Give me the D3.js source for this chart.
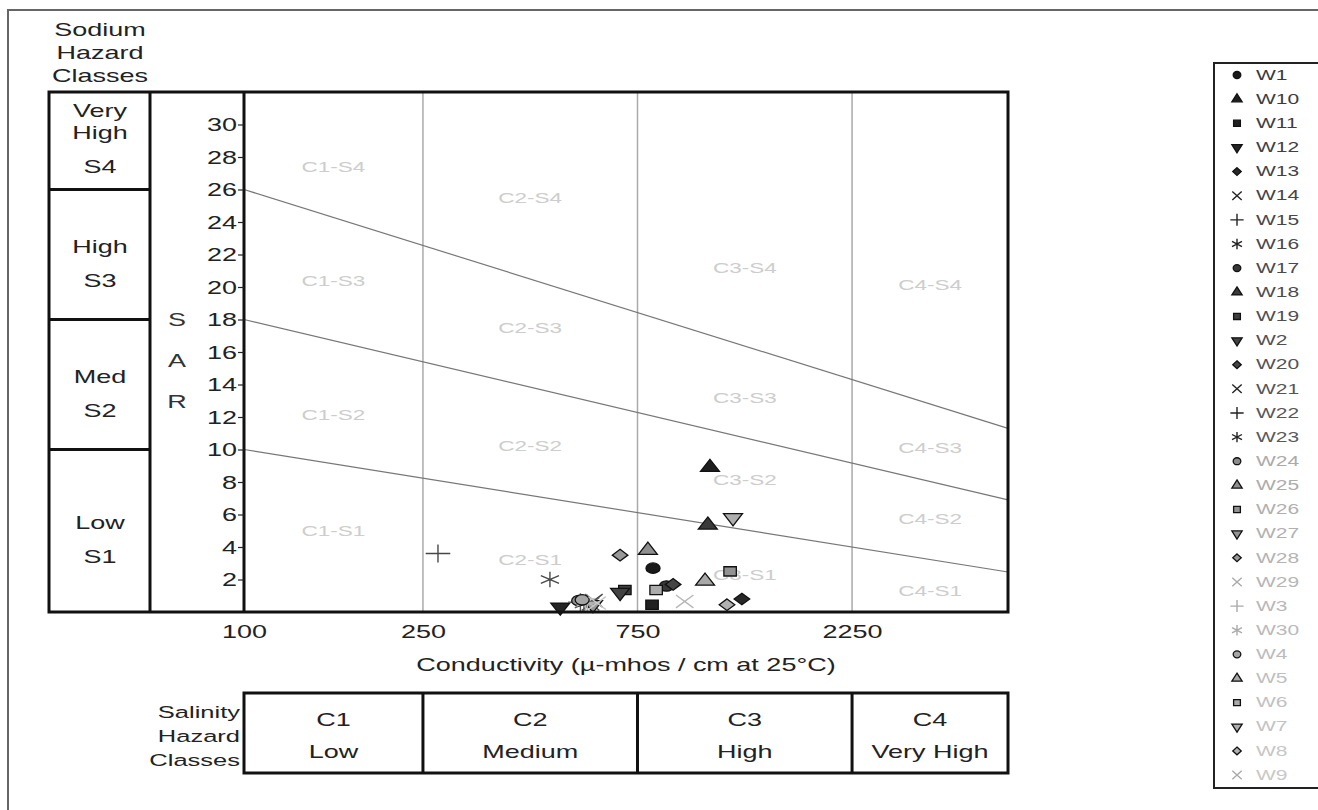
<!DOCTYPE html>
<html>
<head>
<meta charset="utf-8">
<script src="https://cdnjs.cloudflare.com/ajax/libs/d3/7.8.5/d3.min.js"></script>
<style>
  body { margin: 0; background: #fff; }
  svg { display: block; font-family: "Liberation Sans", Arial, sans-serif; }
</style>
</head>
<body>
<svg id="chart" width="1318" height="810"></svg>
<script>
// ---- data ----
var wells = ["W1", "W10", "W11", "W12", "W13", "W14", "W15", "W16", "W17", "W18",
  "W19", "W2", "W20", "W21", "W22", "W23", "W24", "W25", "W26", "W27",
  "W28", "W29", "W3", "W30", "W4", "W5", "W6", "W7", "W8", "W9"];
var conductivity = [812, 1087, 808, 505, 1280, 600, 270, 479, 870, 1075,
  703, 686, 900, 590, 560, 570, 555, 791, 1205, 597,
  686, 955, 580, 575, 565, 1060, 825, 1223, 1186, 610];
var sarValues = [2.7, 8.9, 0.45, 0.3, 0.8, 0.7, 3.6, 2.0, 1.6, 5.35,
  1.35, 1.2, 1.7, 0.5, 0.6, 0.5, 0.7, 3.8, 2.5, 0.45,
  3.5, 0.65, 0.55, 0.6, 0.75, 1.9, 1.35, 5.8, 0.45, 0.55];

var sarTicks = [2, 4, 6, 8, 10, 12, 14, 16, 18, 20, 22, 24, 26, 28, 30];
var ecTicks = [100, 250, 750, 2250];

// salinity class boundaries (µ-mhos/cm) and names
var salinityBounds = [100, 250, 750, 2250, 5000];
var salinityClasses = [["C1", "Low"], ["C2", "Medium"], ["C3", "High"], ["C4", "Very High"]];

// sodium class boundaries at 100 µ-mhos and names
var sodiumBounds = [0, 10, 18, 26, 32];
var sodiumClasses = [["Low", "S1"], ["Med", "S2"], ["High", "S3"], ["Very", "High", "S4"]];

// sloping sodium hazard lines: SAR at EC=100 and at EC=5000
var hazardStart = [10, 18, 26];
var hazardEnd = [2.46, 6.9, 11.3];

// zone label rows (S1..S4) and their SAR height per salinity column
var zoneRows = ["S1", "S2", "S3", "S4"];
var zoneSar = [
  [5.0, 3.2, 2.3, 1.3],
  [12.1, 10.2, 8.1, 5.7],
  [20.4, 17.5, 13.2, 10.1],
  [27.4, 25.5, 21.2, 20.1]
];

// ---- layout ----
var SX = 1.5;  // the reference text is stretched sideways
var svg = d3.select("#chart");
var plot = { left: 244, right: 1008, top: 92, bottom: 612 };

var x = d3.scaleLog().domain([100, 5000]).range([plot.left, plot.right]);
var y = d3.scaleLinear().domain([0, 32]).range([plot.bottom, plot.top]);

function label(g, px, py, txt, size, fill, anchor) {
  return g.append("text")
    .attr("transform", "translate(" + px + "," + py + ") scale(" + SX + ",1)")
    .attr("text-anchor", anchor || "middle")
    .attr("dominant-baseline", "central")
    .style("font-size", size + "px")
    .attr("fill", fill || "#222")
    .text(txt);
}

// outer frame
svg.append("rect")
  .attr("x", 8).attr("y", 10).attr("width", 1400).attr("height", 1000)
  .attr("fill", "none").attr("stroke", "#666").attr("stroke-width", 2);

// grid lines at salinity boundaries
svg.append("g").selectAll("line")
  .data(salinityBounds.slice(1, 4))
  .enter().append("line")
  .attr("x1", function (d) { return x(d); })
  .attr("x2", function (d) { return x(d); })
  .attr("y1", plot.top).attr("y2", plot.bottom)
  .attr("stroke", "#aaa").attr("stroke-width", 1.5);

// sodium hazard lines
svg.append("g").selectAll("line")
  .data(hazardStart)
  .enter().append("line")
  .attr("x1", x(100)).attr("x2", x(5000))
  .attr("y1", function (d) { return y(d); })
  .attr("y2", function (d, i) { return y(hazardEnd[i]); })
  .attr("stroke", "#777").attr("stroke-width", 1.2);

// zone labels
var zones = svg.append("g");
zoneRows.forEach(function (row, r) {
  salinityClasses.forEach(function (c, i) {
    var cx = Math.sqrt(salinityBounds[i] * salinityBounds[i + 1]);
    label(zones, x(cx), y(zoneSar[r][i]), c[0] + "-" + row, 15, "#cdcdcd");
  });
});

// ---- markers ----
var downTriangle = {
  draw: function (ctx, size) {
    var s = Math.sqrt(size * 4 / Math.sqrt(3)), h = s * Math.sqrt(3) / 2;
    ctx.moveTo(0, h * 2 / 3);
    ctx.lineTo(-s / 2, -h / 3);
    ctx.lineTo(s / 2, -h / 3);
    ctx.closePath();
  }
};
var upTriangle = {
  draw: function (ctx, size) {
    var s = Math.sqrt(size * 4 / Math.sqrt(3)), h = s * Math.sqrt(3) / 2;
    ctx.moveTo(0, -h * 2 / 3);
    ctx.lineTo(s / 2, h / 3);
    ctx.lineTo(-s / 2, h / 3);
    ctx.closePath();
  }
};
var shapes = [d3.symbolCircle, upTriangle, d3.symbolSquare, downTriangle,
  d3.symbolDiamond2, d3.symbolTimes, d3.symbolPlus, d3.symbolAsterisk];
var strokeOnly = [false, false, false, false, false, true, true, true];
var shapeScale = [1, 1, 1, 1, 1, 1.3, 1.3, 2.0];

function fillColor(i) {
  return i < 16 ? d3.interpolateRgb("#1a1a1a", "#505050")(i / 15)
    : d3.interpolateRgb("#8c8c8c", "#b4b4b4")((i - 16) / 13);
}
function textColor(i) {
  return i < 16 ? d3.interpolateRgb("#3a3a3a", "#5a5a5a")(i / 15)
    : d3.interpolateRgb("#aaaaaa", "#c8c8c8")((i - 16) / 13);
}

function drawMarker(g, i, px, py, size, sx, markStroke) {
  var k = i % 8;
  var p = g.append("path")
    .attr("d", d3.symbol().type(shapes[k]).size(size * shapeScale[k])())
    .attr("transform", "translate(" + px + "," + py + ") scale(" + sx + ",1)")
    .attr("vector-effect", "non-scaling-stroke");
  if (strokeOnly[k]) {
    p.attr("fill", "none").attr("stroke", markStroke || textColor(i)).attr("stroke-width", 1.4);
  } else {
    p.attr("fill", fillColor(i)).attr("stroke", "#111").attr("stroke-width", 1.3);
  }
}

var pts = svg.append("g");
wells.forEach(function (w, i) {
  drawMarker(pts, i, x(conductivity[i]), y(sarValues[i]), 85, 1.35);
});

// ---- plot frame and left columns ----
var frame = svg.append("g").attr("fill", "none").attr("stroke", "#111").attr("stroke-width", 3);
frame.append("rect")
  .attr("x", 49).attr("y", plot.top)
  .attr("width", plot.right - 49).attr("height", plot.bottom - plot.top);
frame.append("line").attr("x1", 150).attr("x2", 150).attr("y1", plot.top).attr("y2", plot.bottom);
frame.append("line").attr("x1", plot.left).attr("x2", plot.left).attr("y1", plot.top).attr("y2", plot.bottom);
frame.selectAll(".div")
  .data(sodiumBounds.slice(1, 4))
  .enter().append("line")
  .attr("x1", 49).attr("x2", 150)
  .attr("y1", function (d) { return y(d); })
  .attr("y2", function (d) { return y(d); });

// sodium class labels
var sod = svg.append("g");
sodiumClasses.forEach(function (lines, i) {
  var c = (y(sodiumBounds[i]) + y(sodiumBounds[i + 1])) / 2;
  var n = lines.length;
  lines.forEach(function (t, j) {
    var py = j === n - 1 ? c + 26 : c + 26 - 34 - (n - 2 - j) * 22;
    label(sod, 100, py, t, 18, "#222");
  });
});
["Sodium", "Hazard", "Classes"].forEach(function (t, j) {
  label(sod, 100, 30 + j * 23, t, 18, "#222");
});
["S", "A", "R"].forEach(function (t, j) {
  label(sod, 177, 320 + j * 41, t, 18, "#333");
});

// ---- axes ----
var yAxis = svg.append("g")
  .attr("transform", "translate(" + plot.left + ",0)")
  .call(d3.axisLeft(y).tickValues(sarTicks).tickSize(6).tickPadding(0).tickFormat(d3.format("d")));
yAxis.select(".domain").remove();
yAxis.selectAll("line").attr("stroke", "#222").attr("stroke-width", 1.2);
yAxis.selectAll("text")
  .attr("x", -7 / SX).attr("dy", "0.35em")
  .attr("transform", "scale(" + SX + ",1)")
  .style("font-size", "18px").attr("fill", "#222")
  .style("font-family", "'Liberation Sans', Arial, sans-serif");

var xAxis = svg.append("g")
  .attr("transform", "translate(0," + plot.bottom + ")")
  .call(d3.axisBottom(x).tickValues(ecTicks).tickSize(0).tickPadding(13).tickFormat(d3.format("d")));
xAxis.select(".domain").remove();
xAxis.selectAll(".tick text")
  .attr("transform", "scale(" + SX + ",1)")
  .style("font-size", "18px").attr("fill", "#222")
  .style("font-family", "'Liberation Sans', Arial, sans-serif");

label(svg, 626, 665, "Conductivity (µ-mhos / cm at 25°C)", 18, "#222");

// ---- salinity boxes ----
var sal = svg.append("g");
sal.append("rect")
  .attr("x", plot.left).attr("y", 693)
  .attr("width", plot.right - plot.left).attr("height", 80)
  .attr("fill", "none").attr("stroke", "#111").attr("stroke-width", 3);
sal.selectAll("line")
  .data(salinityBounds.slice(1, 4))
  .enter().append("line")
  .attr("x1", function (d) { return x(d); })
  .attr("x2", function (d) { return x(d); })
  .attr("y1", 693).attr("y2", 773)
  .attr("stroke", "#111").attr("stroke-width", 3);
salinityClasses.forEach(function (c, i) {
  var cx = (x(salinityBounds[i]) + x(salinityBounds[i + 1])) / 2;
  label(sal, cx, 720, c[0], 18, "#222");
  label(sal, cx, 752, c[1], 18, "#222");
});
["Salinity", "Hazard", "Classes"].forEach(function (t, j) {
  label(sal, 240, 712 + j * 24, t, 17, "#222", "end");
});

// ---- legend ----
var leg = svg.append("g");
leg.append("rect")
  .attr("x", 1214).attr("y", 63).attr("width", 200).attr("height", 725)
  .attr("fill", "#fff").attr("stroke", "#222").attr("stroke-width", 2);
var step = 24.14;
wells.forEach(function (w, i) {
  var py = 75 + i * step;
  drawMarker(leg, i, 1237, py, 38, 1.1, i < 16 ? "#222" : "#aaa");
  label(leg, 1256, py, w, 14, textColor(i), "start");
});
</script>
</body>
</html>
